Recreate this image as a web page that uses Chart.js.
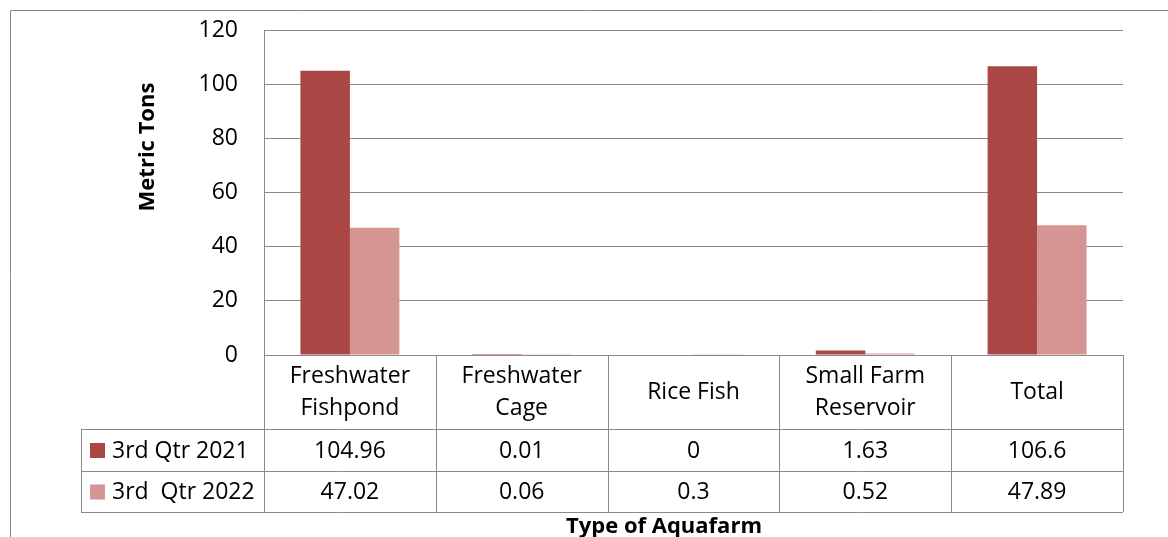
<!DOCTYPE html>
<html>
<head>
<meta charset="utf-8">
<script src="https://cdn.jsdelivr.net/npm/chart.js@4/dist/chart.umd.min.js"></script>
<style>
  body { margin: 0; background: #fff; }
  #wrap { width: 1168px; height: 537px; }
</style>
</head>
<body>
<div id="wrap"><canvas id="myChart" width="1168" height="537"></canvas></div>
<script>
// Categories (type of aquafarm), multi-line as in the data table header
const categories = [
    ["Freshwater", "Fishpond"],
    ["Freshwater", "Cage"],
    ["Rice Fish"],
    ["Small Farm", "Reservoir"],
    ["Total"]
];

// Series values (metric tons)
const qtr2021 = [104.96, 0.01, 0, 1.63, 106.6];
const qtr2022 = [47.02, 0.06, 0.3, 0.52, 47.89];

// Series names as shown in the table legend
const seriesNames = ["3rd Qtr 2021", "3rd  Qtr 2022"];

// Y axis ticks
const yMin = 0;
const yMax = 120;
const yStep = 20;

const colors = ["#AA4643", "#D49593"];
const lineColor = "#8a8a8a";
const fontFamily = "'Open Sans', sans-serif";

// Draws the outer frame, axis titles and the data table under the plot
const tablePlugin = {
    id: "dataTable",
    beforeDraw(chart) {
        const ctx = chart.ctx;
        ctx.save();
        ctx.fillStyle = "#fff";
        ctx.fillRect(0, 0, chart.width, chart.height);
        ctx.strokeStyle = lineColor;
        ctx.lineWidth = 1;
        ctx.beginPath();
        ctx.moveTo(10.5, chart.height);
        ctx.lineTo(10.5, 10.5);
        ctx.lineTo(chart.width, 10.5);
        ctx.stroke();
        ctx.restore();
    },
    afterDraw(chart) {
        const ctx = chart.ctx;
        const area = chart.chartArea;
        const xs = chart.scales.x;
        const half = (xs.getPixelForValue(1) - xs.getPixelForValue(0)) / 2;

        const top = area.bottom;
        const headBottom = top + 74;
        const row1 = headBottom + 42;
        const row2 = row1 + 41;
        const legendLeft = 81;

        ctx.save();
        ctx.strokeStyle = lineColor;
        ctx.lineWidth = 1;
        ctx.beginPath();
        // horizontal rules
        ctx.moveTo(area.left, top + 0.5); ctx.lineTo(area.right, top + 0.5);
        [headBottom, row1, row2].forEach(y => {
            ctx.moveTo(legendLeft, y + 0.5);
            ctx.lineTo(area.right, y + 0.5);
        });
        // vertical rules
        ctx.moveTo(legendLeft + 0.5, headBottom); ctx.lineTo(legendLeft + 0.5, row2);
        for (let i = 0; i <= categories.length; i++) {
            const x = Math.round(xs.getPixelForValue(0) - half + i * half * 2) + 0.5;
            ctx.moveTo(x, top); ctx.lineTo(x, row2);
        }
        ctx.stroke();

        ctx.fillStyle = "#000";
        ctx.font = "23px " + fontFamily;
        ctx.textAlign = "center";
        ctx.textBaseline = "middle";

        // header: category names
        categories.forEach((lines, i) => {
            const cx = xs.getPixelForValue(i);
            const mid = (top + headBottom) / 2;
            lines.forEach((t, j) => {
                ctx.fillText(t, cx, mid + (j - (lines.length - 1) / 2) * 32);
            });
        });

        // value rows
        const rows = [qtr2021, qtr2022];
        const rowMids = [(headBottom + row1) / 2, (row1 + row2) / 2];
        rows.forEach((vals, r) => {
            vals.forEach((v, i) => {
                ctx.fillText(String(v), xs.getPixelForValue(i), rowMids[r] + 1);
            });
            ctx.fillStyle = colors[r];
            ctx.fillRect(legendLeft + 9, rowMids[r] - 7, 15, 15);
            ctx.fillStyle = "#000";
            ctx.textAlign = "left";
            ctx.fillText(seriesNames[r], legendLeft + 31, rowMids[r] + 1);
            ctx.textAlign = "center";
        });

        // axis titles
        ctx.font = "bold 22px " + fontFamily;
        ctx.fillText("Type of Aquafarm", 664, row2 + 15);
        ctx.translate(148, 147);
        ctx.rotate(-Math.PI / 2);
        ctx.fillText("Metric Tons", 0, 0);
        ctx.restore();
    }
};

const chartData = {
    labels: categories,
    datasets: [
        {
            label: seriesNames[0],
            data: qtr2021,
            backgroundColor: colors[0],
            borderWidth: 0,
            categoryPercentage: 0.576,
            barPercentage: 1
        },
        {
            label: seriesNames[1],
            data: qtr2022,
            backgroundColor: colors[1],
            borderWidth: 0,
            categoryPercentage: 0.576,
            barPercentage: 1
        }
    ]
};

const config = {
    type: "bar",
    data: chartData,
    options: {
        responsive: false,
        devicePixelRatio: 1,
        animation: false,
        layout: { padding: { left: 10, top: 30, right: 45, bottom: 182 } },
        plugins: {
            legend: { display: false },
            tooltip: { enabled: false }
        },
        scales: {
            x: { display: false },
            y: {
                min: yMin,
                max: yMax,
                afterFit(scale) { scale.width = 254; },
                ticks: {
                    stepSize: yStep,
                    padding: 0,
                    color: "#000",
                    font: { family: fontFamily, size: 23 }
                },
                grid: { color: lineColor, drawTicks: true, tickLength: 26, tickColor: "rgba(0,0,0,0)" },
                border: { color: lineColor }
            }
        }
    },
    plugins: [tablePlugin]
};

var myChart = new Chart(document.getElementById("myChart"), config);
</script>
</body>
</html>
